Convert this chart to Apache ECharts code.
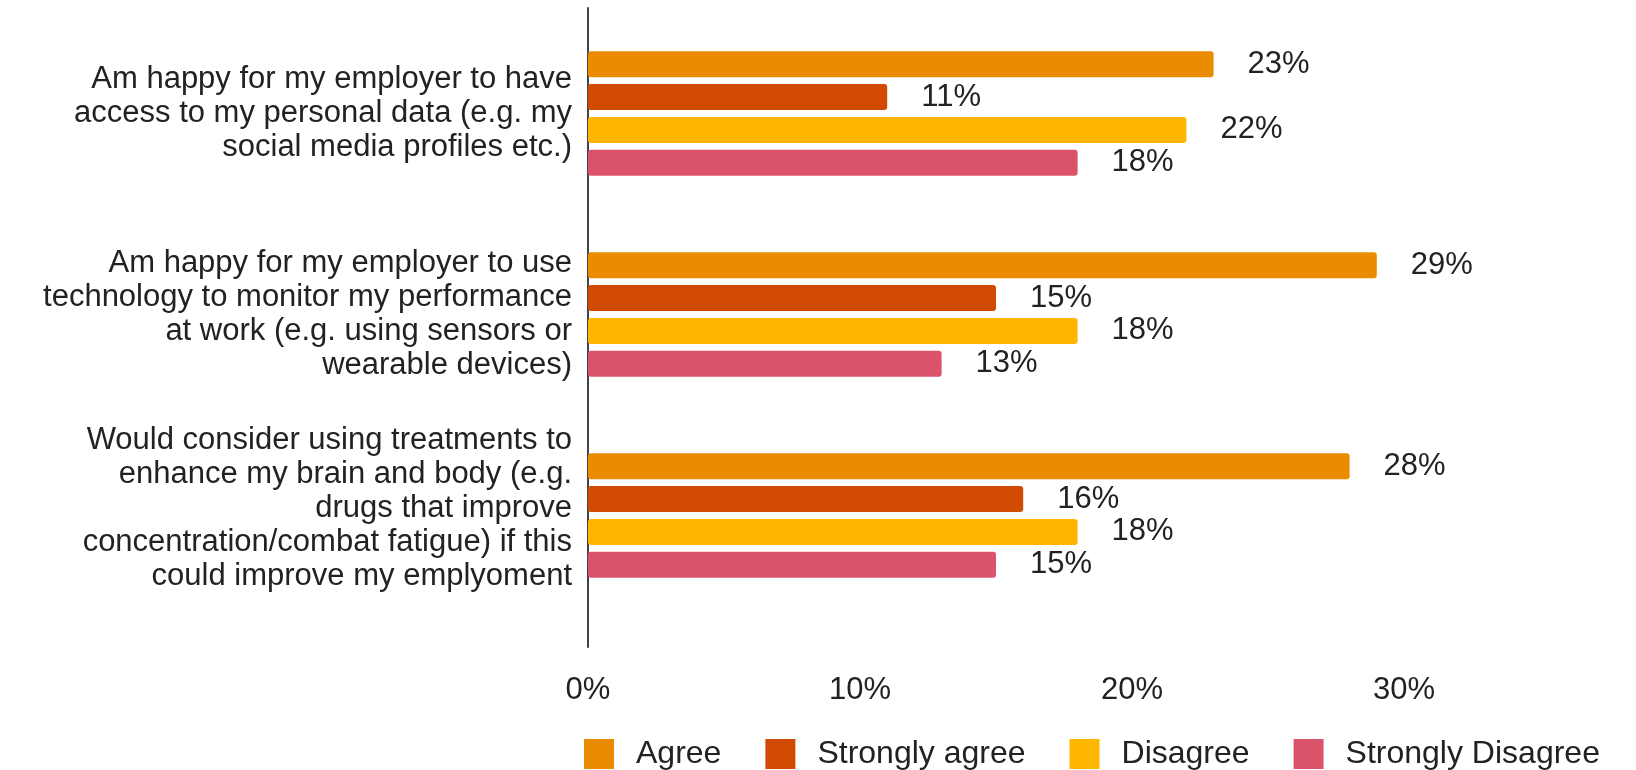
<!DOCTYPE html>
<html>
<head>
<meta charset="utf-8">
<title>Attitudes to workplace technology</title>
<script src="https://cdn.jsdelivr.net/npm/echarts@6/dist/echarts.min.js"></script>
<style>
  html, body { margin: 0; padding: 0; background: #ffffff; }
  #chart { width: 1636px; height: 770px; }
</style>
</head>
<body>
<div id="chart"></div>
<script>
// Survey statements (one category per statement)
const statements = [
  'Am happy for my employer to have\naccess to my personal data (e.g. my\nsocial media profiles etc.)',
  'Am happy for my employer to use\ntechnology to monitor my performance\nat work (e.g. using sensors or\nwearable devices)',
  'Would consider using treatments to\nenhance my brain and body (e.g.\ndrugs that improve\nconcentration/combat fatigue) if this\ncould improve my emplyoment'
];

// Response shares, percent
const agree = [23, 29, 28];
const stronglyAgree = [11, 15, 16];
const disagree = [22, 18, 18];
const stronglyDisagree = [18, 13, 15];

const seriesNames = ['Agree', 'Strongly agree', 'Disagree', 'Strongly Disagree'];
const seriesColors = ['#EB8C00', '#D04A02', '#FFB600', '#DB536A'];
const seriesValues = [agree, stronglyAgree, disagree, stronglyDisagree];

const xTicks = [0, 10, 20, 30];

const FONT = '"Liberation Sans", Arial, sans-serif';
const TEXT = '#222222';

const chart = echarts.init(document.getElementById('chart'));

chart.setOption({
  animation: false,
  textStyle: { fontFamily: FONT },
  legend: {
    left: 579,
    top: 733,
    itemWidth: 30,
    itemHeight: 30,
    itemGap: 44,
    icon: 'rect',
    textStyle: { fontSize: 32, color: TEXT, fontFamily: FONT, padding: [0, 0, 0, 17] },
    data: seriesNames
  },
  grid: [
    // bars
    { left: 588, right: 232, top: 13, height: 603 },
    // full-height frame carrying the vertical axis line and percent ticks
    { left: 588, right: 232, top: 8, bottom: 123 }
  ],
  xAxis: [
    {
      gridIndex: 0, type: 'value', min: 0, max: xTicks[xTicks.length - 1], interval: 10,
      show: false
    },
    {
      gridIndex: 1, type: 'value', min: 0, max: xTicks[xTicks.length - 1], interval: 10,
      axisLine: { show: false },
      axisTick: { show: false },
      splitLine: { show: false },
      axisLabel: {
        margin: 28, fontSize: 31, color: TEXT, fontFamily: FONT,
        formatter: v => xTicks.indexOf(v) >= 0 ? v + '%' : ''
      }
    }
  ],
  yAxis: [
    {
      gridIndex: 0, type: 'category', inverse: true, data: statements,
      axisLine: { show: false },
      axisTick: { show: false },
      axisLabel: {
        margin: 16, fontSize: 31, lineHeight: 34, color: TEXT, fontFamily: FONT,
        align: 'right',
        // the five-line statement sits a little above its band centre
        formatter: (v, i) => i === 2 ? v + '\n{gap| }' : v,
        rich: { gap: { lineHeight: 15, fontSize: 1 } }
      }
    },
    {
      gridIndex: 1, type: 'value', min: 0, max: 1,
      axisLine: { show: true, lineStyle: { color: '#444444', width: 2 } },
      axisTick: { show: false },
      axisLabel: { show: false },
      splitLine: { show: false }
    }
  ],
  series: seriesNames.map((name, i) => ({
    name,
    type: 'bar',
    xAxisIndex: 0,
    yAxisIndex: 0,
    data: seriesValues[i],
    barWidth: 26,
    barGap: '26%',
    itemStyle: { color: seriesColors[i], borderRadius: 3 },
    label: {
      show: true,
      position: 'right',
      distance: 34,
      fontSize: 31,
      color: TEXT,
      fontFamily: FONT,
      formatter: p => p.value + '%'
    }
  }))
});
</script>
</body>
</html>
